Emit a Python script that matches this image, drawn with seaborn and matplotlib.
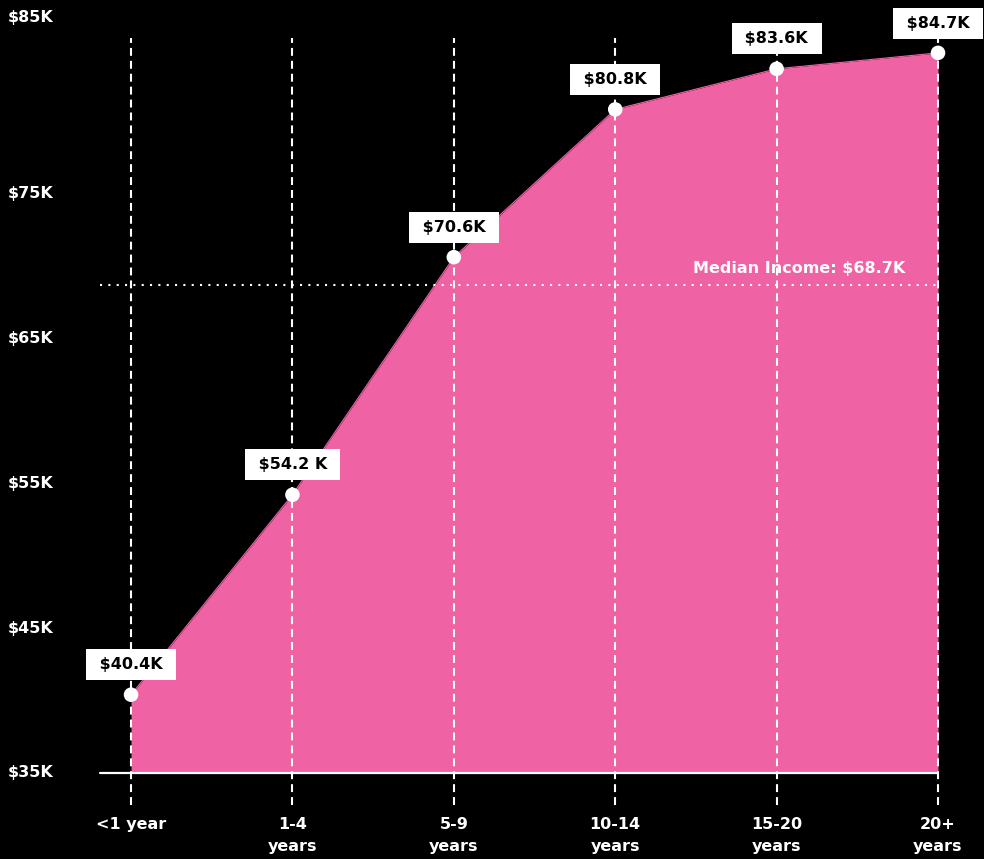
import matplotlib
matplotlib.use("Agg")
import matplotlib.pyplot as plt
import matplotlib.transforms as mtransforms
import seaborn as sns
import pandas as pd

categories = ["<1 year", "1-4\nyears", "5-9\nyears", "10-14\nyears", "15-20\nyears", "20+\nyears"]
income_k = [40.4, 54.2, 70.6, 80.8, 83.6, 84.7]
point_labels = ["$40.4K", "$54.2 K", "$70.6K", "$80.8K", "$83.6K", "$84.7K"]
ytick_values = [35, 45, 55, 65, 75, 85]
ytick_labels = ["$35K", "$45K", "$55K", "$65K", "$75K", "$85K"]
median_k = 68.7
median_label = "Median Income: $68.7K"

PINK = "#EF62A3"
sns.set_theme(style="white")
plt.rcParams["font.family"] = ["DejaVu Sans"]

df = pd.DataFrame({"x": range(len(categories)), "y": income_k})

fig = plt.figure(figsize=(9.84, 8.59), dpi=100, facecolor="black")
ax = fig.add_axes([0, 0, 1, 1])
ax.set_facecolor("black")
ax.set_xlim(-0.812, 5.285)
ax.set_ylim(29.06, 88.35)
for s in ax.spines.values():
    s.set_visible(False)
ax.set_xticks([])
ax.set_yticks([])

base = ytick_values[0]
ax.fill_between(df["x"], base, df["y"], color=PINK, lw=0, zorder=1)
sns.lineplot(data=df, x="x", y="y", color=PINK, lw=0.8, ax=ax, zorder=2)

# vertical dashed guides
for xi in df["x"]:
    ax.plot([xi, xi], [32.8, 85.7], color="white", lw=1.5,
            linestyle=(0, (3.8, 2.4)), zorder=3)

# baseline
ax.plot([-0.19, 5.0], [base, base], color="white", lw=1.6, zorder=4)

# median dotted line
ax.plot([-0.19, 5.02], [median_k, median_k], color="white", lw=1.5,
        linestyle=(0, (1, 3)), zorder=3)
ax.annotate(median_label, xy=(4.8, median_k), xytext=(0, 6), textcoords="offset points",
            ha="right", va="bottom", color="white", fontsize=11.5, fontweight="bold", zorder=6)

# points
sns.scatterplot(data=df, x="x", y="y", color="white", s=110, edgecolor="none",
                ax=ax, zorder=5, legend=False)

# value labels
for xi, yi, lab in zip(df["x"], df["y"], point_labels):
    ax.annotate(" " + lab + " ", xy=(xi, yi), xytext=(0, 21.5), textcoords="offset points",
                ha="center", va="center", color="black", fontsize=11.5, fontweight="bold",
                bbox=dict(boxstyle="square,pad=0.5", fc="white", ec="none"), zorder=7)

# y labels
ytrans = mtransforms.blended_transform_factory(ax.transAxes, ax.transData)
for v, lab in zip(ytick_values, ytick_labels):
    t = ytrans
    if v == ytick_values[-1]:
        t = ytrans + mtransforms.ScaledTranslation(0, 31 / 100, fig.dpi_scale_trans)
    ax.text(8 / 984, v, lab, transform=t, ha="left", va="center",
            color="white", fontsize=11.5, fontweight="bold")

# x labels
for xi, lab in zip(df["x"], categories):
    ax.text(xi, 31.95, lab, ha="center", va="top", color="white", fontsize=11.5,
            fontweight="bold", linespacing=1.6)

ax.set_xlabel("")
ax.set_ylabel("")
fig.savefig("out.png", dpi=100, facecolor="black")
